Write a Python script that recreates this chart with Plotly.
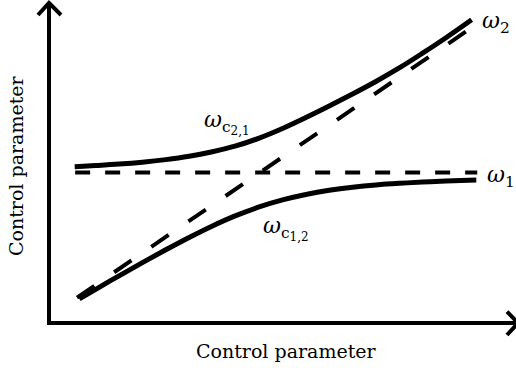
import plotly.graph_objects as go

# Control parameter (x) and mode frequency (y), arbitrary units 0..10
x_upper = [0.55, 1.0, 1.5, 2.0, 2.5, 3.0, 3.5, 4.0, 4.5, 5.0, 5.5, 6.0, 6.5, 7.0, 7.5, 8.0, 8.5, 9.05]
w_upper = [4.87, 4.905, 4.95, 5.01, 5.09, 5.195, 5.335, 5.515, 5.76, 6.06, 6.40, 6.76, 7.135, 7.525,
           7.945, 8.405, 8.885, 9.445]

x_lower = [0.65, 1.0, 1.5, 2.0, 2.5, 3.0, 3.5, 4.0, 4.5, 5.0, 5.5, 6.0, 6.5, 7.0, 7.5, 8.0, 8.5, 9.15]
w_lower = [0.75, 1.05, 1.47, 1.88, 2.28, 2.665, 3.025, 3.345, 3.615, 3.835, 4.005, 4.135, 4.23, 4.30,
           4.35, 4.39, 4.42, 4.455]

# Uncoupled modes
x_w1 = [0.56, 9.17]
w1 = [4.69, 4.69]
x_w2 = [0.60, 9.10]
w2 = [0.79, 9.25]

FONT = "DejaVu Serif"
BLACK = "#000000"

fig = go.Figure()

fig.add_trace(go.Scatter(x=x_w1, y=w1, mode="lines",
                         line=dict(color=BLACK, width=4, dash="15px,15px")))
fig.add_trace(go.Scatter(x=x_w2, y=w2, mode="lines",
                         line=dict(color=BLACK, width=4, dash="21px,24px")))
fig.add_trace(go.Scatter(x=x_upper, y=w_upper, mode="lines",
                         line=dict(color=BLACK, width=5, shape="spline", smoothing=1.0)))
fig.add_trace(go.Scatter(x=x_lower, y=w_lower, mode="lines",
                         line=dict(color=BLACK, width=5, shape="spline", smoothing=1.0)))

# Axis lines with open arrow heads
axis_style = dict(color=BLACK, width=4)
shapes = [
    dict(type="line", xref="x", yref="y", x0=-0.04, y0=0, x1=10.04, y1=0, line=axis_style),
    dict(type="line", xref="x", yref="y", x0=0, y0=-0.06, x1=0, y1=9.97, line=axis_style),
    dict(type="path", xref="x", yref="y", path="M -0.236,9.595 L 0,9.97 L 0.257,9.595", line=axis_style),
    dict(type="path", xref="x", yref="y", path="M 9.807,0.358 L 10.043,0 L 9.807,-0.374", line=axis_style),
]

label_font = dict(family=FONT, size=22, color=BLACK)


def mode_label(sub, subsub=None):
    # omega with a subscript, optionally carrying a second-level subscript
    if subsub is None:
        return f"<i>ω</i><sub>{sub}</sub>"
    return (f"<i>ω</i><sub>{sub}<sub><span style='font-size:12px'>{subsub}</span></sub></sub>")


annotations = [
    dict(text="Control parameter", xref="paper", yref="paper", x=286.5 / 516, y=1 - 351 / 368,
         xanchor="center", yanchor="middle", showarrow=False,
         font=dict(family=FONT, size=19, color=BLACK)),
    dict(text="Control parameter", xref="paper", yref="paper", x=16 / 516, y=1 - 166 / 368,
         xanchor="center", yanchor="middle", textangle=-90, showarrow=False,
         font=dict(family=FONT, size=19, color=BLACK)),
    dict(text=mode_label("2"), x=x_upper[-1], y=w_upper[-1], xanchor="left", yanchor="middle",
         xshift=8, yshift=-3, showarrow=False, font=label_font),
    dict(text=mode_label("1"), x=x_w1[-1], y=w1[-1], xanchor="left", yanchor="middle",
         xshift=8, yshift=-4, showarrow=False, font=label_font),
    dict(text=mode_label("c", "2,1"), x=3.28, y=6.25, xanchor="left", yanchor="middle",
         showarrow=False, font=label_font),
    dict(text=mode_label("c", "1,2"), x=4.55, y=2.95, xanchor="left", yanchor="middle",
         showarrow=False, font=label_font),
]

fig.update_layout(
    width=516, height=368,
    margin=dict(l=0, r=0, t=0, b=0),
    paper_bgcolor="white", plot_bgcolor="white",
    showlegend=False,
    xaxis=dict(range=[-1.0493, 10.0], visible=False, fixedrange=True),
    yaxis=dict(range=[-1.4019, 10.0623], visible=False, fixedrange=True),
    shapes=shapes,
    annotations=annotations,
)

fig.write_html("out.html", config={"displayModeBar": False})
